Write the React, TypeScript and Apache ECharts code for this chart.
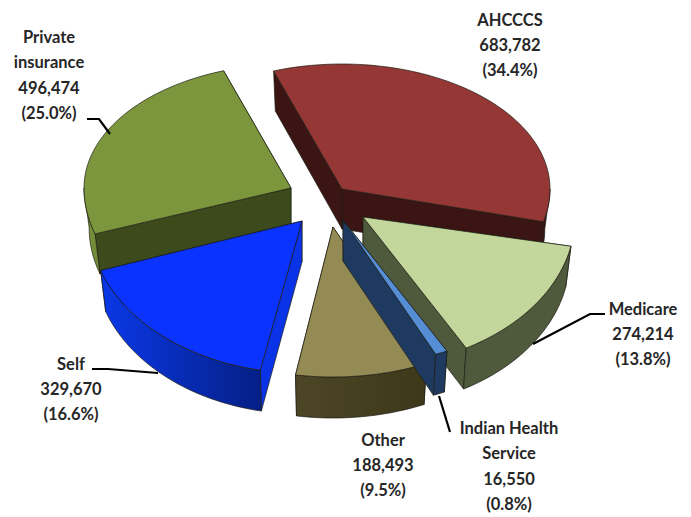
import React, { useEffect, useRef } from "react";
import * as echarts from "echarts";

const categories = ["AHCCCS", "Medicare", "Indian Health\nService", "Other", "Self", "Private\ninsurance"];
const values = [683782, 274214, 16550, 188493, 329670, 496474];
const percents = ["34.4", "13.8", "0.8", "9.5", "16.6", "25.0"];
const firstSliceAngle = -19.5;

// Projection of each exploded wedge (apex, radii, thickness, small view correction)
const geometry = [
  { cx: 342, cy: 189, rx: 208, ryTop: 125, ryBottom: 130, depth: 40, shift: 0.3 },
  { cx: 363, cy: 217, rx: 212, ryTop: 125, ryBottom: 150, depth: 41, shift: -3 },
  { cx: 343, cy: 220, rx: 236, ryTop: 125, ryBottom: 146, depth: 41, shift: 0 },
  { cx: 333, cy: 227, rx: 225, ryTop: 125, ryBottom: 150, depth: 41, shift: -1.4 },
  { cx: 302, cy: 221, rx: 213, ryTop: 125, ryBottom: 152, depth: 41, shift: 0.3 },
  { cx: 291, cy: 188, rx: 207, ryTop: 124, ryBottom: 142, depth: 40, shift: 0.5 },
];
const lowerFaceScale = 0.975;
const colors = [
  { top: "#953735", start: "#3a1513", end: "#3a1513", outer: ["#3a1513", "#3a1513"] },
  { top: "#c3d69b", start: "#4f5a3c", end: "#4f5a3c", outer: ["#4f5a3c", "#4f5a3c"] },
  { top: "#558ed5", start: "#1f3a60", end: "#1f3a60", outer: ["#1f3a60", "#1f3a60"] },
  { top: "#948a54", start: "#4a4425", end: "#4a4425", outer: ["#4c4626", "#3d3819"] },
  { top: "#0a33ff", start: "#0a33e8", end: "#0a33e8", outer: ["#0a38e8", "#051f85"] },
  { top: "#7b963c", start: "#3c4a1c", end: "#3c4a1c", outer: ["#7b963c", "#6d8735"] },
];
const drawOrder = [0, 5, 4, 1, 3, 2];

const labelPlaces = [
  { x: 510, y: 45 },
  { x: 643, y: 334 },
  { x: 509, y: 466 },
  { x: 383, y: 465 },
  { x: 71, y: 389 },
  { x: 49, y: 75 },
];
const leaders = [
  [[87, 119], [99, 119], [110, 134]],
  [[605, 314], [590, 314], [533, 344]],
  [[439, 396], [450, 432]],
  [[92, 369], [108, 369], [158, 373]],
];

const total = values.reduce((a, b) => a + b, 0);
const sweeps = values.map((v) => (v / total) * 360);

function startAngle(i: number) {
  let a = firstSliceAngle;
  for (let k = 0; k < i; k++) a += sweeps[k];
  return a;
}

function project(g: any, deg: number, drop = 0) {
  const r = (deg * Math.PI) / 180;
  const c = Math.cos(r);
  const s = drop ? lowerFaceScale : 1;
  return [g.cx + g.rx * s * Math.sin(r), g.cy - (c > 0 ? g.ryTop : g.ryBottom) * c + drop];
}

function arc(g: any, a0: number, a1: number, drop = 0) {
  const n = Math.max(2, Math.ceil(Math.abs(a1 - a0) / 1.5));
  const pts: number[][] = [];
  for (let k = 0; k <= n; k++) pts.push(project(g, a0 + ((a1 - a0) * k) / n, drop));
  return pts;
}

const edge = { stroke: "#1c1c14", lineWidth: 0.7 };

function renderSlice(_: any, api: any) {
  const i = api.value(0);
  const g = geometry[i];
  const col = colors[i];
  const a0 = startAngle(i) + g.shift;
  const a1 = a0 + (api.value(1) / total) * 360;
  const apex = [g.cx, g.cy];
  const apexLow = [g.cx, g.cy + g.depth];
  const wall = (a: number, fill: string) => ({
    type: "polygon",
    shape: { points: [apex, project(g, a), project(g, a, g.depth), apexLow] },
    style: { fill, ...edge },
  });
  // the wall whose outer corner sits higher on the page is the one further back
  const backFirst = project(g, a0)[1] <= project(g, a1)[1];
  const children: any[] = backFirst
    ? [wall(a0, col.start), wall(a1, col.end)]
    : [wall(a1, col.end), wall(a0, col.start)];
  const lo = Math.max(a0, 90);
  const hi = Math.min(a1, 270);
  if (hi > lo) {
    const upper = arc(g, lo, hi);
    const lower = arc(g, hi, lo, g.depth);
    children.push({
      type: "polygon",
      shape: { points: [...upper, ...lower] },
      style: {
        fill: new echarts.graphic.LinearGradient(1, 0, 0, 0, [
          { offset: 0, color: col.outer[1] },
          { offset: 1, color: col.outer[0] },
        ]),
        ...edge,
      },
    });
  }
  children.push({
    type: "polygon",
    shape: { points: [apex, ...arc(g, a0, a1)] },
    style: { fill: col.top, ...edge },
  });
  return { type: "group", children };
}

export default function App() {
  const ref = useRef<HTMLDivElement>(null);
  useEffect(() => {
    const chart = echarts.init(ref.current!, null, { renderer: "svg" });
    chart.setOption({
      animation: false,
      backgroundColor: "#ffffff",
      series: [
        {
          type: "custom",
          coordinateSystem: "none",
          renderItem: renderSlice,
          data: drawOrder.map((i) => [i, values[i]]),
          silent: true,
        },
      ],
      graphic: [
        ...leaders.map((points) => ({
          type: "polyline",
          z: 20,
          silent: true,
          shape: { points },
          style: { stroke: "#000000", lineWidth: 2.2, fill: "none" },
        })),
        ...categories.map((name, i) => ({
          type: "text",
          z: 30,
          silent: true,
          x: labelPlaces[i].x,
          y: labelPlaces[i].y,
          style: {
            text: `${name}\n${values[i].toLocaleString("en-US")}\n(${percents[i]}%)`,
            font: "bold 16.5px Lato",
            lineHeight: 25.3,
            fill: "#262626",
            align: "center",
            verticalAlign: "middle",
          },
        })),
      ],
    });
    return () => chart.dispose();
  }, []);
  return <div ref={ref} style={{ position: "fixed", left: 0, top: 0, width: 691, height: 517 }} />;
}
